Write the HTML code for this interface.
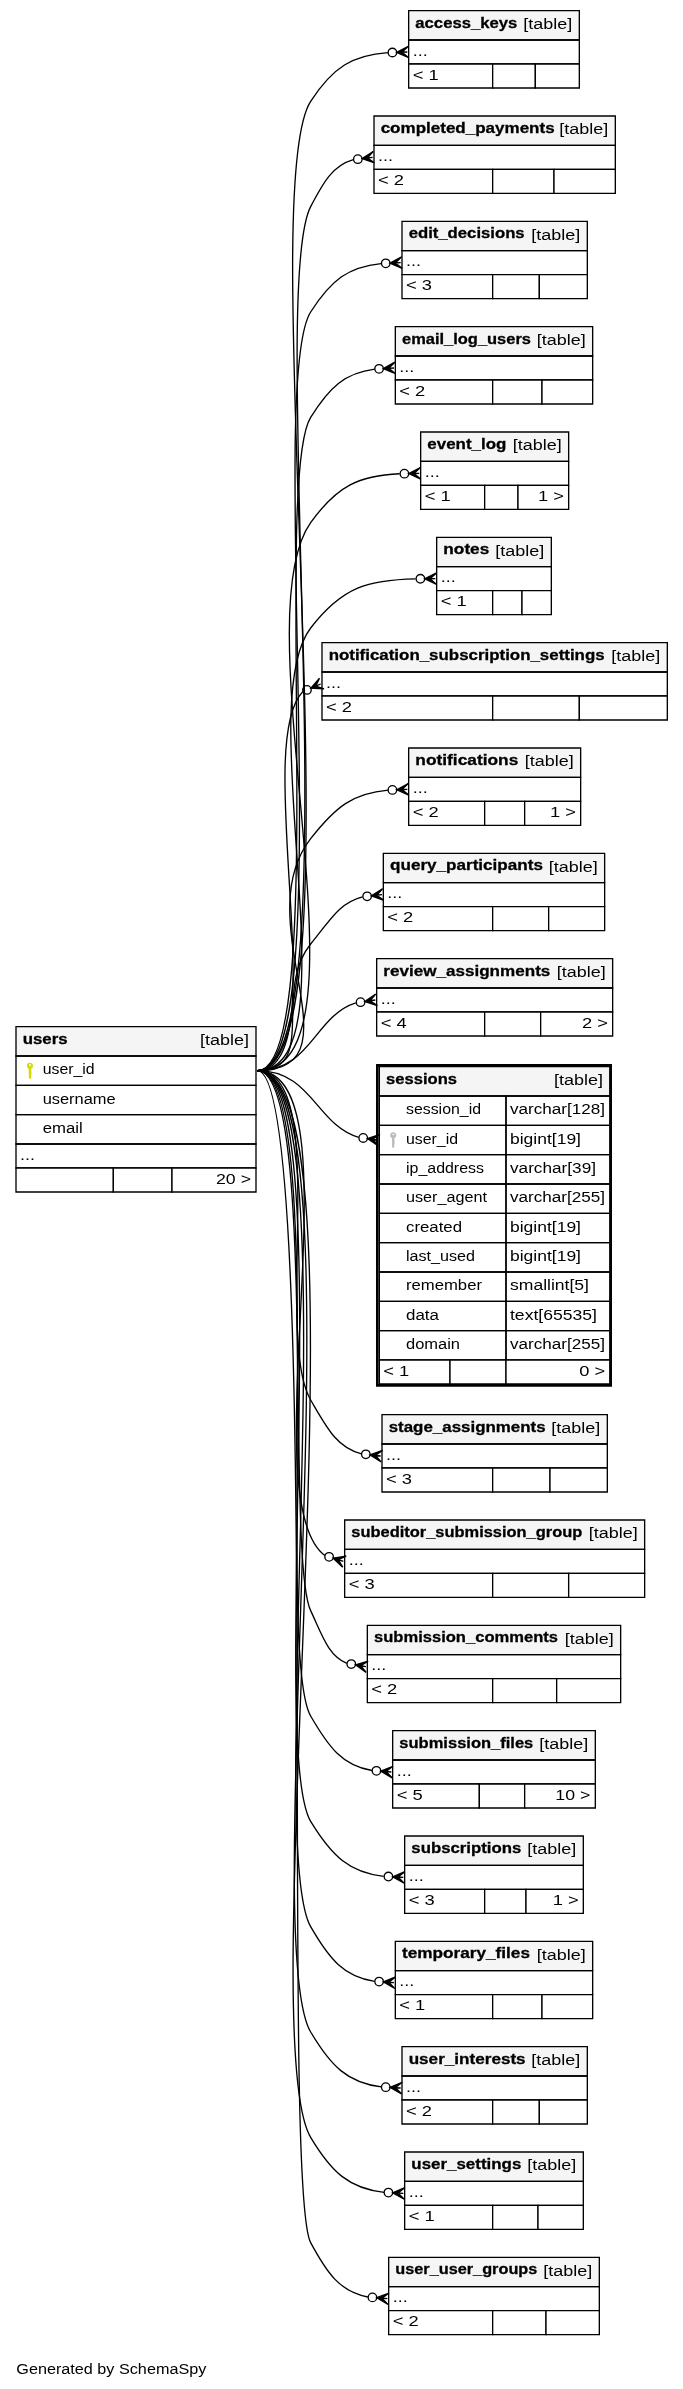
<!DOCTYPE html>
<html><head><meta charset="utf-8"><title>users</title>
<style>
html,body{margin:0;padding:0;background:#fff;}
svg{display:block;will-change:transform;}
svg text{font-family:"Liberation Sans",sans-serif;font-size:11.5px;fill:#000;}
svg text[font-weight=bold]{stroke:#000;stroke-width:0.22px;}
</style></head><body>
<svg width="682.667" height="2389.333" viewBox="0 0 512 1792">
<g transform="scale(1 1) rotate(0) translate(4 1788)">
<polygon fill="#ffffff" stroke="none" points="-4,4 -4,-1788 508,-1788 508,4 -4,4"/>
<text lengthAdjust="spacingAndGlyphs" text-anchor="middle" x="79.5" y="-7.2" textLength="142.5">Generated by SchemaSpy</text>
<g>
<polygon fill="#ffffff" stroke="none" points="302.5,-1722 302.5,-1780 430.5,-1780 430.5,-1722 302.5,-1722"/>
<polygon fill="#f5f5f5" stroke="none" points="302.5,-1758 302.5,-1780 430.5,-1780 430.5,-1758 302.5,-1758"/>
<polygon fill="none" stroke="black" points="302.5,-1758 302.5,-1780 430.5,-1780 430.5,-1758 302.5,-1758"/>
<text lengthAdjust="spacingAndGlyphs" text-anchor="start" x="307.5" y="-1767.2" font-weight="bold" textLength="76.5">access_keys</text>
<text lengthAdjust="spacingAndGlyphs" text-anchor="start" x="388.5" y="-1766.2" textLength="36.75">[table]</text>
<polygon fill="none" stroke="black" points="302.5,-1740 302.5,-1758 430.5,-1758 430.5,-1740 302.5,-1740"/>
<text lengthAdjust="spacingAndGlyphs" text-anchor="start" x="305.5" y="-1746.2" textLength="11.25">...</text>
<polygon fill="#ffffff" stroke="none" points="302.5,-1722 302.5,-1740 365.5,-1740 365.5,-1722 302.5,-1722"/>
<polygon fill="none" stroke="black" points="302.5,-1722 302.5,-1740 365.5,-1740 365.5,-1722 302.5,-1722"/>
<text lengthAdjust="spacingAndGlyphs" text-anchor="start" x="305.5" y="-1728.2" textLength="19.5">&lt; 1</text>
<polygon fill="#ffffff" stroke="none" points="365.5,-1722 365.5,-1740 397.5,-1740 397.5,-1722 365.5,-1722"/>
<polygon fill="none" stroke="black" points="365.5,-1722 365.5,-1740 397.5,-1740 397.5,-1722 365.5,-1722"/>

<polygon fill="#ffffff" stroke="none" points="397.5,-1722 397.5,-1740 430.5,-1740 430.5,-1722 397.5,-1722"/>
<polygon fill="none" stroke="black" points="397.5,-1722 397.5,-1740 430.5,-1740 430.5,-1722 397.5,-1722"/>

</g>
<g>
<polygon fill="#ffffff" stroke="none" points="8,-894 8,-1018 188,-1018 188,-894 8,-894"/>
<polygon fill="#f5f5f5" stroke="none" points="8,-996 8,-1018 188,-1018 188,-996 8,-996"/>
<polygon fill="none" stroke="black" points="8,-996 8,-1018 188,-1018 188,-996 8,-996"/>
<text lengthAdjust="spacingAndGlyphs" text-anchor="start" x="13" y="-1005.2" font-weight="bold" textLength="33.75">users</text>
<text lengthAdjust="spacingAndGlyphs" text-anchor="start" x="146" y="-1004.2" textLength="36.75">[table]</text>
<polygon fill="none" stroke="black" points="8,-974 8,-996 188,-996 188,-974 8,-974"/>
<text lengthAdjust="spacingAndGlyphs" text-anchor="start" x="28" y="-982.2" textLength="39">user_id</text>
<polygon fill="none" stroke="black" points="8,-952 8,-974 188,-974 188,-952 8,-952"/>
<text lengthAdjust="spacingAndGlyphs" text-anchor="start" x="28" y="-960.2" textLength="54.75">username</text>
<polygon fill="none" stroke="black" points="8,-930 8,-952 188,-952 188,-930 8,-930"/>
<text lengthAdjust="spacingAndGlyphs" text-anchor="start" x="28" y="-938.2" textLength="30">email</text>
<polygon fill="none" stroke="black" points="8,-912 8,-930 188,-930 188,-912 8,-912"/>
<text lengthAdjust="spacingAndGlyphs" text-anchor="start" x="11" y="-918.2" textLength="11.25">...</text>
<polygon fill="#ffffff" stroke="none" points="8,-894 8,-912 81,-912 81,-894 8,-894"/>
<polygon fill="none" stroke="black" points="8,-894 8,-912 81,-912 81,-894 8,-894"/>

<polygon fill="#ffffff" stroke="none" points="81,-894 81,-912 125,-912 125,-894 81,-894"/>
<polygon fill="none" stroke="black" points="81,-894 81,-912 125,-912 125,-894 81,-894"/>

<polygon fill="#ffffff" stroke="none" points="125,-894 125,-912 188,-912 188,-894 125,-894"/>
<polygon fill="none" stroke="black" points="125,-894 125,-912 188,-912 188,-894 125,-894"/>
<text lengthAdjust="spacingAndGlyphs" text-anchor="start" x="158" y="-900.2" textLength="26.25">20 &gt;</text>
</g>
<g>
<path fill="none" stroke="black" d="M286.97,-1748.53C260.46,-1746.58 245.88,-1737.94 229,-1712 184.87,-1644.19 269.9,-985 189,-985"/>
<polygon fill="black" stroke="black" points="293.5,-1748.74 302.26,-1753.35 297.5,-1748.87 301.5,-1749 301.5,-1749 301.5,-1749 297.5,-1748.87 302.54,-1744.71 293.5,-1748.74 293.5,-1748.74"/>
<ellipse fill="none" stroke="black" cx="290.31" cy="-1748.64" rx="3.2" ry="3.2"/>
</g>
<g>
<polygon fill="#ffffff" stroke="none" points="276,-1643 276,-1701 457,-1701 457,-1643 276,-1643"/>
<polygon fill="#f5f5f5" stroke="none" points="276.5,-1679 276.5,-1701 457.5,-1701 457.5,-1679 276.5,-1679"/>
<polygon fill="none" stroke="black" points="276.5,-1679 276.5,-1701 457.5,-1701 457.5,-1679 276.5,-1679"/>
<text lengthAdjust="spacingAndGlyphs" text-anchor="start" x="281.5" y="-1688.2" font-weight="bold" textLength="130.5">completed_payments</text>
<text lengthAdjust="spacingAndGlyphs" text-anchor="start" x="415.5" y="-1687.2" textLength="36.75">[table]</text>
<polygon fill="none" stroke="black" points="276.5,-1661 276.5,-1679 457.5,-1679 457.5,-1661 276.5,-1661"/>
<text lengthAdjust="spacingAndGlyphs" text-anchor="start" x="279.5" y="-1667.2" textLength="11.25">...</text>
<polygon fill="#ffffff" stroke="none" points="276.5,-1643 276.5,-1661 365.5,-1661 365.5,-1643 276.5,-1643"/>
<polygon fill="none" stroke="black" points="276.5,-1643 276.5,-1661 365.5,-1661 365.5,-1643 276.5,-1643"/>
<text lengthAdjust="spacingAndGlyphs" text-anchor="start" x="279.5" y="-1649.2" textLength="19.5">&lt; 2</text>
<polygon fill="#ffffff" stroke="none" points="365.5,-1643 365.5,-1661 411.5,-1661 411.5,-1643 365.5,-1643"/>
<polygon fill="none" stroke="black" points="365.5,-1643 365.5,-1661 411.5,-1661 411.5,-1643 365.5,-1643"/>

<polygon fill="#ffffff" stroke="none" points="411.5,-1643 411.5,-1661 457.5,-1661 457.5,-1643 411.5,-1643"/>
<polygon fill="none" stroke="black" points="411.5,-1643 411.5,-1661 457.5,-1661 457.5,-1643 411.5,-1643"/>

</g>
<g>
<path fill="none" stroke="black" d="M261.04,-1668.22C245.57,-1663.83 238.63,-1651.48 229,-1633 195.68,-1569.02 261.14,-985 189,-985"/>
<polygon fill="black" stroke="black" points="267.56,-1669.02 275.87,-1674.39 271.53,-1669.51 275.5,-1670 275.5,-1670 275.5,-1670 271.53,-1669.51 276.92,-1665.83 267.56,-1669.02 267.56,-1669.02"/>
<ellipse fill="none" stroke="black" cx="264.38" cy="-1668.63" rx="3.2" ry="3.2"/>
</g>
<g>
<polygon fill="#ffffff" stroke="none" points="297,-1564 297,-1622 436,-1622 436,-1564 297,-1564"/>
<polygon fill="#f5f5f5" stroke="none" points="297.5,-1600 297.5,-1622 436.5,-1622 436.5,-1600 297.5,-1600"/>
<polygon fill="none" stroke="black" points="297.5,-1600 297.5,-1622 436.5,-1622 436.5,-1600 297.5,-1600"/>
<text lengthAdjust="spacingAndGlyphs" text-anchor="start" x="302.5" y="-1609.2" font-weight="bold" textLength="87">edit_decisions</text>
<text lengthAdjust="spacingAndGlyphs" text-anchor="start" x="394.5" y="-1608.2" textLength="36.75">[table]</text>
<polygon fill="none" stroke="black" points="297.5,-1582 297.5,-1600 436.5,-1600 436.5,-1582 297.5,-1582"/>
<text lengthAdjust="spacingAndGlyphs" text-anchor="start" x="300.5" y="-1588.2" textLength="11.25">...</text>
<polygon fill="#ffffff" stroke="none" points="297.5,-1564 297.5,-1582 365.5,-1582 365.5,-1564 297.5,-1564"/>
<polygon fill="none" stroke="black" points="297.5,-1564 297.5,-1582 365.5,-1582 365.5,-1564 297.5,-1564"/>
<text lengthAdjust="spacingAndGlyphs" text-anchor="start" x="300.5" y="-1570.2" textLength="19.5">&lt; 3</text>
<polygon fill="#ffffff" stroke="none" points="365.5,-1564 365.5,-1582 400.5,-1582 400.5,-1564 365.5,-1564"/>
<polygon fill="none" stroke="black" points="365.5,-1564 365.5,-1582 400.5,-1582 400.5,-1564 365.5,-1564"/>

<polygon fill="#ffffff" stroke="none" points="400.5,-1564 400.5,-1582 436.5,-1582 436.5,-1564 400.5,-1564"/>
<polygon fill="none" stroke="black" points="400.5,-1564 400.5,-1582 436.5,-1582 436.5,-1564 400.5,-1564"/>

</g>
<g>
<path fill="none" stroke="black" d="M281.79,-1590.35C257.56,-1587.94 244.57,-1578.31 229,-1554 194.81,-1500.63 252.38,-985 189,-985"/>
<polygon fill="black" stroke="black" points="288.51,-1590.65 297.21,-1595.36 292.5,-1590.82 296.5,-1591 296.5,-1591 296.5,-1591 292.5,-1590.82 297.59,-1586.72 288.51,-1590.65 288.51,-1590.65"/>
<ellipse fill="none" stroke="black" cx="285.31" cy="-1590.51" rx="3.2" ry="3.2"/>
</g>
<g>
<polygon fill="#ffffff" stroke="none" points="292.5,-1485 292.5,-1543 440.5,-1543 440.5,-1485 292.5,-1485"/>
<polygon fill="#f5f5f5" stroke="none" points="292.5,-1521 292.5,-1543 440.5,-1543 440.5,-1521 292.5,-1521"/>
<polygon fill="none" stroke="black" points="292.5,-1521 292.5,-1543 440.5,-1543 440.5,-1521 292.5,-1521"/>
<text lengthAdjust="spacingAndGlyphs" text-anchor="start" x="297.5" y="-1530.2" font-weight="bold" textLength="96.75">email_log_users</text>
<text lengthAdjust="spacingAndGlyphs" text-anchor="start" x="398.5" y="-1529.2" textLength="36.75">[table]</text>
<polygon fill="none" stroke="black" points="292.5,-1503 292.5,-1521 440.5,-1521 440.5,-1503 292.5,-1503"/>
<text lengthAdjust="spacingAndGlyphs" text-anchor="start" x="295.5" y="-1509.2" textLength="11.25">...</text>
<polygon fill="#ffffff" stroke="none" points="292.5,-1485 292.5,-1503 365.5,-1503 365.5,-1485 292.5,-1485"/>
<polygon fill="none" stroke="black" points="292.5,-1485 292.5,-1503 365.5,-1503 365.5,-1485 292.5,-1485"/>
<text lengthAdjust="spacingAndGlyphs" text-anchor="start" x="295.5" y="-1491.2" textLength="19.5">&lt; 2</text>
<polygon fill="#ffffff" stroke="none" points="365.5,-1485 365.5,-1503 402.5,-1503 402.5,-1485 365.5,-1485"/>
<polygon fill="none" stroke="black" points="365.5,-1485 365.5,-1503 402.5,-1503 402.5,-1485 365.5,-1485"/>

<polygon fill="#ffffff" stroke="none" points="402.5,-1485 402.5,-1503 440.5,-1503 440.5,-1485 402.5,-1485"/>
<polygon fill="none" stroke="black" points="402.5,-1485 402.5,-1503 440.5,-1503 440.5,-1485 402.5,-1485"/>

</g>
<g>
<path fill="none" stroke="black" d="M277.06,-1511.19C254.81,-1508.36 243.31,-1497.88 229,-1475 200.04,-1428.69 243.63,-985 189,-985"/>
<polygon fill="black" stroke="black" points="283.51,-1511.55 292.16,-1516.36 287.51,-1511.78 291.5,-1512 291.5,-1512 291.5,-1512 287.51,-1511.78 292.64,-1507.74 283.51,-1511.55 283.51,-1511.55"/>
<ellipse fill="none" stroke="black" cx="280.32" cy="-1511.37" rx="3.2" ry="3.2"/>
</g>
<g>
<polygon fill="#ffffff" stroke="none" points="311,-1406 311,-1464 422,-1464 422,-1406 311,-1406"/>
<polygon fill="#f5f5f5" stroke="none" points="311.5,-1442 311.5,-1464 422.5,-1464 422.5,-1442 311.5,-1442"/>
<polygon fill="none" stroke="black" points="311.5,-1442 311.5,-1464 422.5,-1464 422.5,-1442 311.5,-1442"/>
<text lengthAdjust="spacingAndGlyphs" text-anchor="start" x="316.5" y="-1451.2" font-weight="bold" textLength="59.25">event_log</text>
<text lengthAdjust="spacingAndGlyphs" text-anchor="start" x="380.5" y="-1450.2" textLength="36.75">[table]</text>
<polygon fill="none" stroke="black" points="311.5,-1424 311.5,-1442 422.5,-1442 422.5,-1424 311.5,-1424"/>
<text lengthAdjust="spacingAndGlyphs" text-anchor="start" x="314.5" y="-1430.2" textLength="11.25">...</text>
<polygon fill="#ffffff" stroke="none" points="311.5,-1406 311.5,-1424 359.5,-1424 359.5,-1406 311.5,-1406"/>
<polygon fill="none" stroke="black" points="311.5,-1406 311.5,-1424 359.5,-1424 359.5,-1406 311.5,-1406"/>
<text lengthAdjust="spacingAndGlyphs" text-anchor="start" x="314.5" y="-1412.2" textLength="19.5">&lt; 1</text>
<polygon fill="#ffffff" stroke="none" points="359.5,-1406 359.5,-1424 384.5,-1424 384.5,-1406 359.5,-1406"/>
<polygon fill="none" stroke="black" points="359.5,-1406 359.5,-1424 384.5,-1424 384.5,-1406 359.5,-1406"/>

<polygon fill="#ffffff" stroke="none" points="384.5,-1406 384.5,-1424 422.5,-1424 422.5,-1406 384.5,-1406"/>
<polygon fill="none" stroke="black" points="384.5,-1406 384.5,-1424 422.5,-1424 422.5,-1406 384.5,-1406"/>
<text lengthAdjust="spacingAndGlyphs" text-anchor="start" x="399.5" y="-1412.2" textLength="19.5">1 &gt;</text>
</g>
<g>
<path fill="none" stroke="black" d="M295.71,-1432.7C265.7,-1431.28 249.07,-1424.06 229,-1396 175.62,-1321.36 280.76,-985 189,-985"/>
<polygon fill="black" stroke="black" points="302.5,-1432.84 311.32,-1437.34 306.5,-1432.92 310.5,-1433 310.5,-1433 310.5,-1433 306.5,-1432.92 311.48,-1428.7 302.5,-1432.84 302.5,-1432.84"/>
<ellipse fill="none" stroke="black" cx="299.3" cy="-1432.77" rx="3.2" ry="3.2"/>
</g>
<g>
<polygon fill="#ffffff" stroke="none" points="323.5,-1327 323.5,-1385 409.5,-1385 409.5,-1327 323.5,-1327"/>
<polygon fill="#f5f5f5" stroke="none" points="323.5,-1363 323.5,-1385 409.5,-1385 409.5,-1363 323.5,-1363"/>
<polygon fill="none" stroke="black" points="323.5,-1363 323.5,-1385 409.5,-1385 409.5,-1363 323.5,-1363"/>
<text lengthAdjust="spacingAndGlyphs" text-anchor="start" x="328.5" y="-1372.2" font-weight="bold" textLength="34.5">notes</text>
<text lengthAdjust="spacingAndGlyphs" text-anchor="start" x="367.5" y="-1371.2" textLength="36.75">[table]</text>
<polygon fill="none" stroke="black" points="323.5,-1345 323.5,-1363 409.5,-1363 409.5,-1345 323.5,-1345"/>
<text lengthAdjust="spacingAndGlyphs" text-anchor="start" x="326.5" y="-1351.2" textLength="11.25">...</text>
<polygon fill="#ffffff" stroke="none" points="323.5,-1327 323.5,-1345 365.5,-1345 365.5,-1327 323.5,-1327"/>
<polygon fill="none" stroke="black" points="323.5,-1327 323.5,-1345 365.5,-1345 365.5,-1327 323.5,-1327"/>
<text lengthAdjust="spacingAndGlyphs" text-anchor="start" x="326.5" y="-1333.2" textLength="19.5">&lt; 1</text>
<polygon fill="#ffffff" stroke="none" points="365.5,-1327 365.5,-1345 387.5,-1345 387.5,-1327 365.5,-1327"/>
<polygon fill="none" stroke="black" points="365.5,-1327 365.5,-1345 387.5,-1345 387.5,-1327 365.5,-1327"/>

<polygon fill="#ffffff" stroke="none" points="387.5,-1327 387.5,-1345 409.5,-1345 409.5,-1327 387.5,-1327"/>
<polygon fill="none" stroke="black" points="387.5,-1327 387.5,-1345 409.5,-1345 409.5,-1327 387.5,-1327"/>

</g>
<g>
<path fill="none" stroke="black" d="M307.7,-1353.88C272.69,-1353.16 253.09,-1348.24 229,-1317 183.62,-1258.16 263.31,-985 189,-985"/>
<polygon fill="black" stroke="black" points="314.5,-1353.94 323.36,-1358.33 318.5,-1353.97 322.5,-1354 322.5,-1354 322.5,-1354 318.5,-1353.97 323.44,-1349.69 314.5,-1353.94 314.5,-1353.94"/>
<ellipse fill="none" stroke="black" cx="311.3" cy="-1353.91" rx="3.2" ry="3.2"/>
</g>
<g>
<polygon fill="#ffffff" stroke="none" points="237,-1248 237,-1306 496,-1306 496,-1248 237,-1248"/>
<polygon fill="#f5f5f5" stroke="none" points="237.5,-1284 237.5,-1306 496.5,-1306 496.5,-1284 237.5,-1284"/>
<polygon fill="none" stroke="black" points="237.5,-1284 237.5,-1306 496.5,-1306 496.5,-1284 237.5,-1284"/>
<text lengthAdjust="spacingAndGlyphs" text-anchor="start" x="242.5" y="-1293.2" font-weight="bold" textLength="207">notification_subscription_settings</text>
<text lengthAdjust="spacingAndGlyphs" text-anchor="start" x="454.5" y="-1292.2" textLength="36.75">[table]</text>
<polygon fill="none" stroke="black" points="237.5,-1266 237.5,-1284 496.5,-1284 496.5,-1266 237.5,-1266"/>
<text lengthAdjust="spacingAndGlyphs" text-anchor="start" x="240.5" y="-1272.2" textLength="11.25">...</text>
<polygon fill="#ffffff" stroke="none" points="237.5,-1248 237.5,-1266 365.5,-1266 365.5,-1248 237.5,-1248"/>
<polygon fill="none" stroke="black" points="237.5,-1248 237.5,-1266 365.5,-1266 365.5,-1248 237.5,-1248"/>
<text lengthAdjust="spacingAndGlyphs" text-anchor="start" x="240.5" y="-1254.2" textLength="19.5">&lt; 2</text>
<polygon fill="#ffffff" stroke="none" points="365.5,-1248 365.5,-1266 430.5,-1266 430.5,-1248 365.5,-1248"/>
<polygon fill="none" stroke="black" points="365.5,-1248 365.5,-1266 430.5,-1266 430.5,-1248 365.5,-1248"/>

<polygon fill="#ffffff" stroke="none" points="430.5,-1248 430.5,-1266 496.5,-1266 496.5,-1248 430.5,-1248"/>
<polygon fill="none" stroke="black" points="430.5,-1248 430.5,-1266 496.5,-1266 496.5,-1248 430.5,-1248"/>

</g>
<g>
<path fill="none" stroke="black" d="M223.01,-1269.21C184.11,-1228.33 248.82,-985 189,-985"/>
<polygon fill="black" stroke="black" points="229.15,-1271.84 235.62,-1279.33 232.82,-1273.42 236.5,-1275 236.5,-1275 236.5,-1275 232.82,-1273.42 239.03,-1271.38 229.15,-1271.84 229.15,-1271.84"/>
<ellipse fill="none" stroke="black" cx="226.21" cy="-1270.58" rx="3.2" ry="3.2"/>
</g>
<g>
<polygon fill="#ffffff" stroke="none" points="302,-1169 302,-1227 431,-1227 431,-1169 302,-1169"/>
<polygon fill="#f5f5f5" stroke="none" points="302.5,-1205 302.5,-1227 431.5,-1227 431.5,-1205 302.5,-1205"/>
<polygon fill="none" stroke="black" points="302.5,-1205 302.5,-1227 431.5,-1227 431.5,-1205 302.5,-1205"/>
<text lengthAdjust="spacingAndGlyphs" text-anchor="start" x="307.5" y="-1214.2" font-weight="bold" textLength="77.25">notifications</text>
<text lengthAdjust="spacingAndGlyphs" text-anchor="start" x="389.5" y="-1213.2" textLength="36.75">[table]</text>
<polygon fill="none" stroke="black" points="302.5,-1187 302.5,-1205 431.5,-1205 431.5,-1187 302.5,-1187"/>
<text lengthAdjust="spacingAndGlyphs" text-anchor="start" x="305.5" y="-1193.2" textLength="11.25">...</text>
<polygon fill="#ffffff" stroke="none" points="302.5,-1169 302.5,-1187 359.5,-1187 359.5,-1169 302.5,-1169"/>
<polygon fill="none" stroke="black" points="302.5,-1169 302.5,-1187 359.5,-1187 359.5,-1169 302.5,-1169"/>
<text lengthAdjust="spacingAndGlyphs" text-anchor="start" x="305.5" y="-1175.2" textLength="19.5">&lt; 2</text>
<polygon fill="#ffffff" stroke="none" points="359.5,-1169 359.5,-1187 389.5,-1187 389.5,-1169 359.5,-1169"/>
<polygon fill="none" stroke="black" points="359.5,-1169 359.5,-1187 389.5,-1187 389.5,-1169 359.5,-1169"/>

<polygon fill="#ffffff" stroke="none" points="389.5,-1169 389.5,-1187 431.5,-1187 431.5,-1169 389.5,-1169"/>
<polygon fill="none" stroke="black" points="389.5,-1169 389.5,-1187 431.5,-1187 431.5,-1169 389.5,-1169"/>
<text lengthAdjust="spacingAndGlyphs" text-anchor="start" x="408.5" y="-1175.2" textLength="19.5">1 &gt;</text>
</g>
<g>
<path fill="none" stroke="black" d="M287.11,-1195.43C261.08,-1193.13 248.03,-1183.4 229,-1159 180.2,-1096.43 268.35,-985 189,-985"/>
<polygon fill="black" stroke="black" points="293.51,-1195.69 302.23,-1200.35 297.5,-1195.84 301.5,-1196 301.5,-1196 301.5,-1196 297.5,-1195.84 302.57,-1191.71 293.51,-1195.69 293.51,-1195.69"/>
<ellipse fill="none" stroke="black" cx="290.31" cy="-1195.56" rx="3.2" ry="3.2"/>
</g>
<g>
<polygon fill="#ffffff" stroke="none" points="283.5,-1090 283.5,-1148 449.5,-1148 449.5,-1090 283.5,-1090"/>
<polygon fill="#f5f5f5" stroke="none" points="283.5,-1126 283.5,-1148 449.5,-1148 449.5,-1126 283.5,-1126"/>
<polygon fill="none" stroke="black" points="283.5,-1126 283.5,-1148 449.5,-1148 449.5,-1126 283.5,-1126"/>
<text lengthAdjust="spacingAndGlyphs" text-anchor="start" x="288.5" y="-1135.2" font-weight="bold" textLength="114.75">query_participants</text>
<text lengthAdjust="spacingAndGlyphs" text-anchor="start" x="407.5" y="-1134.2" textLength="36.75">[table]</text>
<polygon fill="none" stroke="black" points="283.5,-1108 283.5,-1126 449.5,-1126 449.5,-1108 283.5,-1108"/>
<text lengthAdjust="spacingAndGlyphs" text-anchor="start" x="286.5" y="-1114.2" textLength="11.25">...</text>
<polygon fill="#ffffff" stroke="none" points="283.5,-1090 283.5,-1108 365.5,-1108 365.5,-1090 283.5,-1090"/>
<polygon fill="none" stroke="black" points="283.5,-1090 283.5,-1108 365.5,-1108 365.5,-1090 283.5,-1090"/>
<text lengthAdjust="spacingAndGlyphs" text-anchor="start" x="286.5" y="-1096.2" textLength="19.5">&lt; 2</text>
<polygon fill="#ffffff" stroke="none" points="365.5,-1090 365.5,-1108 407.5,-1108 407.5,-1090 365.5,-1090"/>
<polygon fill="none" stroke="black" points="365.5,-1090 365.5,-1108 407.5,-1108 407.5,-1090 365.5,-1090"/>

<polygon fill="#ffffff" stroke="none" points="407.5,-1090 407.5,-1108 449.5,-1108 449.5,-1090 407.5,-1090"/>
<polygon fill="none" stroke="black" points="407.5,-1090 407.5,-1108 449.5,-1108 449.5,-1090 407.5,-1090"/>

</g>
<g>
<path fill="none" stroke="black" d="M267.88,-1115.38C250.65,-1111.01 243.67,-1098.06 229,-1080 200.12,-1044.44 234.81,-985 189,-985"/>
<polygon fill="black" stroke="black" points="274.55,-1116.12 282.91,-1121.4 278.52,-1116.56 282.5,-1117 282.5,-1117 282.5,-1117 278.52,-1116.56 283.87,-1112.8 274.55,-1116.12 274.55,-1116.12"/>
<ellipse fill="none" stroke="black" cx="271.37" cy="-1115.77" rx="3.2" ry="3.2"/>
</g>
<g>
<polygon fill="#ffffff" stroke="none" points="278,-1011 278,-1069 455,-1069 455,-1011 278,-1011"/>
<polygon fill="#f5f5f5" stroke="none" points="278.5,-1047 278.5,-1069 455.5,-1069 455.5,-1047 278.5,-1047"/>
<polygon fill="none" stroke="black" points="278.5,-1047 278.5,-1069 455.5,-1069 455.5,-1047 278.5,-1047"/>
<text lengthAdjust="spacingAndGlyphs" text-anchor="start" x="283.5" y="-1056.2" font-weight="bold" textLength="125.25">review_assignments</text>
<text lengthAdjust="spacingAndGlyphs" text-anchor="start" x="413.5" y="-1055.2" textLength="36.75">[table]</text>
<polygon fill="none" stroke="black" points="278.5,-1029 278.5,-1047 455.5,-1047 455.5,-1029 278.5,-1029"/>
<text lengthAdjust="spacingAndGlyphs" text-anchor="start" x="281.5" y="-1035.2" textLength="11.25">...</text>
<polygon fill="#ffffff" stroke="none" points="278.5,-1011 278.5,-1029 359.5,-1029 359.5,-1011 278.5,-1011"/>
<polygon fill="none" stroke="black" points="278.5,-1011 278.5,-1029 359.5,-1029 359.5,-1011 278.5,-1011"/>
<text lengthAdjust="spacingAndGlyphs" text-anchor="start" x="281.5" y="-1017.2" textLength="19.5">&lt; 4</text>
<polygon fill="#ffffff" stroke="none" points="359.5,-1011 359.5,-1029 401.5,-1029 401.5,-1011 359.5,-1011"/>
<polygon fill="none" stroke="black" points="359.5,-1011 359.5,-1029 401.5,-1029 401.5,-1011 359.5,-1011"/>

<polygon fill="#ffffff" stroke="none" points="401.5,-1011 401.5,-1029 455.5,-1029 455.5,-1011 401.5,-1011"/>
<polygon fill="none" stroke="black" points="401.5,-1011 401.5,-1029 455.5,-1029 455.5,-1011 401.5,-1011"/>
<text lengthAdjust="spacingAndGlyphs" text-anchor="start" x="432.5" y="-1017.2" textLength="19.5">2 &gt;</text>
</g>
<g>
<path fill="none" stroke="black" d="M262.83,-1035.86C231.71,-1025.94 229.3,-985 189,-985"/>
<polygon fill="black" stroke="black" points="269.58,-1036.84 277.77,-1042.4 273.54,-1037.42 277.5,-1038 277.5,-1038 277.5,-1038 273.54,-1037.42 279.01,-1033.86 269.58,-1036.84 269.58,-1036.84"/>
<ellipse fill="none" stroke="black" cx="266.42" cy="-1036.38" rx="3.2" ry="3.2"/>
</g>
<g>
<polygon fill="#ffffff" stroke="none" points="278,-748 278,-990 455,-990 455,-748 278,-748"/>
<polygon fill="#f5f5f5" stroke="none" points="280.5,-966 280.5,-988 453.5,-988 453.5,-966 280.5,-966"/>
<polygon fill="none" stroke="black" points="280.5,-966 280.5,-988 453.5,-988 453.5,-966 280.5,-966"/>
<text lengthAdjust="spacingAndGlyphs" text-anchor="start" x="285.5" y="-975.2" font-weight="bold" textLength="53.25">sessions</text>
<text lengthAdjust="spacingAndGlyphs" text-anchor="start" x="411.5" y="-974.2" textLength="36.75">[table]</text>
<polygon fill="none" stroke="black" points="280.5,-944 280.5,-966 375.5,-966 375.5,-944 280.5,-944"/>
<text lengthAdjust="spacingAndGlyphs" text-anchor="start" x="300.5" y="-952.2" textLength="56.25">session_id</text>
<polygon fill="none" stroke="black" points="375.5,-944 375.5,-966 453.5,-966 453.5,-944 375.5,-944"/>
<text lengthAdjust="spacingAndGlyphs" text-anchor="start" x="378.5" y="-952.2" textLength="71.25">varchar[128]</text>
<polygon fill="none" stroke="black" points="280.5,-922 280.5,-944 375.5,-944 375.5,-922 280.5,-922"/>
<text lengthAdjust="spacingAndGlyphs" text-anchor="start" x="300.5" y="-930.2" textLength="39">user_id</text>
<polygon fill="none" stroke="black" points="375.5,-922 375.5,-944 453.5,-944 453.5,-922 375.5,-922"/>
<text lengthAdjust="spacingAndGlyphs" text-anchor="start" x="378.5" y="-930.2" textLength="53.25">bigint[19]</text>
<polygon fill="none" stroke="black" points="280.5,-900 280.5,-922 375.5,-922 375.5,-900 280.5,-900"/>
<text lengthAdjust="spacingAndGlyphs" text-anchor="start" x="300.5" y="-908.2" textLength="58.5">ip_address</text>
<polygon fill="none" stroke="black" points="375.5,-900 375.5,-922 453.5,-922 453.5,-900 375.5,-900"/>
<text lengthAdjust="spacingAndGlyphs" text-anchor="start" x="378.5" y="-908.2" textLength="64.5">varchar[39]</text>
<polygon fill="none" stroke="black" points="280.5,-878 280.5,-900 375.5,-900 375.5,-878 280.5,-878"/>
<text lengthAdjust="spacingAndGlyphs" text-anchor="start" x="300.5" y="-886.2" textLength="60.75">user_agent</text>
<polygon fill="none" stroke="black" points="375.5,-878 375.5,-900 453.5,-900 453.5,-878 375.5,-878"/>
<text lengthAdjust="spacingAndGlyphs" text-anchor="start" x="378.5" y="-886.2" textLength="71.25">varchar[255]</text>
<polygon fill="none" stroke="black" points="280.5,-856 280.5,-878 375.5,-878 375.5,-856 280.5,-856"/>
<text lengthAdjust="spacingAndGlyphs" text-anchor="start" x="300.5" y="-864.2" textLength="42">created</text>
<polygon fill="none" stroke="black" points="375.5,-856 375.5,-878 453.5,-878 453.5,-856 375.5,-856"/>
<text lengthAdjust="spacingAndGlyphs" text-anchor="start" x="378.5" y="-864.2" textLength="53.25">bigint[19]</text>
<polygon fill="none" stroke="black" points="280.5,-834 280.5,-856 375.5,-856 375.5,-834 280.5,-834"/>
<text lengthAdjust="spacingAndGlyphs" text-anchor="start" x="300.5" y="-842.2" textLength="51.75">last_used</text>
<polygon fill="none" stroke="black" points="375.5,-834 375.5,-856 453.5,-856 453.5,-834 375.5,-834"/>
<text lengthAdjust="spacingAndGlyphs" text-anchor="start" x="378.5" y="-842.2" textLength="53.25">bigint[19]</text>
<polygon fill="none" stroke="black" points="280.5,-812 280.5,-834 375.5,-834 375.5,-812 280.5,-812"/>
<text lengthAdjust="spacingAndGlyphs" text-anchor="start" x="300.5" y="-820.2" textLength="57">remember</text>
<polygon fill="none" stroke="black" points="375.5,-812 375.5,-834 453.5,-834 453.5,-812 375.5,-812"/>
<text lengthAdjust="spacingAndGlyphs" text-anchor="start" x="378.5" y="-820.2" textLength="59.25">smallint[5]</text>
<polygon fill="none" stroke="black" points="280.5,-790 280.5,-812 375.5,-812 375.5,-790 280.5,-790"/>
<text lengthAdjust="spacingAndGlyphs" text-anchor="start" x="300.5" y="-798.2" textLength="24.75">data</text>
<polygon fill="none" stroke="black" points="375.5,-790 375.5,-812 453.5,-812 453.5,-790 375.5,-790"/>
<text lengthAdjust="spacingAndGlyphs" text-anchor="start" x="378.5" y="-798.2" textLength="65.25">text[65535]</text>
<polygon fill="none" stroke="black" points="280.5,-768 280.5,-790 375.5,-790 375.5,-768 280.5,-768"/>
<text lengthAdjust="spacingAndGlyphs" text-anchor="start" x="300.5" y="-776.2" textLength="40.5">domain</text>
<polygon fill="none" stroke="black" points="375.5,-768 375.5,-790 453.5,-790 453.5,-768 375.5,-768"/>
<text lengthAdjust="spacingAndGlyphs" text-anchor="start" x="378.5" y="-776.2" textLength="71.25">varchar[255]</text>
<polygon fill="#ffffff" stroke="none" points="280.5,-750 280.5,-768 333.5,-768 333.5,-750 280.5,-750"/>
<polygon fill="none" stroke="black" points="280.5,-750 280.5,-768 333.5,-768 333.5,-750 280.5,-750"/>
<text lengthAdjust="spacingAndGlyphs" text-anchor="start" x="283.5" y="-756.2" textLength="19.5">&lt; 1</text>
<polygon fill="#ffffff" stroke="none" points="333.5,-750 333.5,-768 375.5,-768 375.5,-750 333.5,-750"/>
<polygon fill="none" stroke="black" points="333.5,-750 333.5,-768 375.5,-768 375.5,-750 333.5,-750"/>

<polygon fill="#ffffff" stroke="none" points="375.5,-750 375.5,-768 453.5,-768 453.5,-750 375.5,-750"/>
<polygon fill="none" stroke="black" points="375.5,-750 375.5,-768 453.5,-768 453.5,-750 375.5,-750"/>
<text lengthAdjust="spacingAndGlyphs" text-anchor="start" x="430.5" y="-756.2" textLength="19.5">0 &gt;</text>
<polygon fill="none" stroke="black" stroke-width="2" points="279,-749 279,-989 454,-989 454,-749 279,-749"/>
</g>
<g>
<path fill="none" stroke="black" d="M265.04,-934.97C232.98,-944.47 229.95,-985 189,-985"/>
<polygon fill="black" stroke="black" points="271.57,-934.08 280.98,-937.16 275.54,-933.54 279.5,-933 279.5,-933 279.5,-933 275.54,-933.54 279.8,-928.59 271.57,-934.08 271.57,-934.08"/>
<ellipse fill="none" stroke="black" cx="268.4" cy="-934.52" rx="3.2" ry="3.2"/>
</g>
<g>
<polygon fill="#ffffff" stroke="none" points="282,-669 282,-727 451,-727 451,-669 282,-669"/>
<polygon fill="#f5f5f5" stroke="none" points="282.5,-705 282.5,-727 451.5,-727 451.5,-705 282.5,-705"/>
<polygon fill="none" stroke="black" points="282.5,-705 282.5,-727 451.5,-727 451.5,-705 282.5,-705"/>
<text lengthAdjust="spacingAndGlyphs" text-anchor="start" x="287.5" y="-714.2" font-weight="bold" textLength="117.75">stage_assignments</text>
<text lengthAdjust="spacingAndGlyphs" text-anchor="start" x="409.5" y="-713.2" textLength="36.75">[table]</text>
<polygon fill="none" stroke="black" points="282.5,-687 282.5,-705 451.5,-705 451.5,-687 282.5,-687"/>
<text lengthAdjust="spacingAndGlyphs" text-anchor="start" x="285.5" y="-693.2" textLength="11.25">...</text>
<polygon fill="#ffffff" stroke="none" points="282.5,-669 282.5,-687 365.5,-687 365.5,-669 282.5,-669"/>
<polygon fill="none" stroke="black" points="282.5,-669 282.5,-687 365.5,-687 365.5,-669 282.5,-669"/>
<text lengthAdjust="spacingAndGlyphs" text-anchor="start" x="285.5" y="-675.2" textLength="19.5">&lt; 3</text>
<polygon fill="#ffffff" stroke="none" points="365.5,-669 365.5,-687 408.5,-687 408.5,-669 365.5,-669"/>
<polygon fill="none" stroke="black" points="365.5,-669 365.5,-687 408.5,-687 408.5,-669 365.5,-669"/>

<polygon fill="#ffffff" stroke="none" points="408.5,-669 408.5,-687 451.5,-687 451.5,-669 408.5,-669"/>
<polygon fill="none" stroke="black" points="408.5,-669 408.5,-687 451.5,-687 451.5,-669 408.5,-669"/>

</g>
<g>
<path fill="none" stroke="black" d="M267.11,-697.6C248.59,-702.27 241.3,-716.93 229,-738 200.97,-786.02 244.6,-985 189,-985"/>
<polygon fill="black" stroke="black" points="273.55,-696.88 282.87,-700.2 277.52,-696.44 281.5,-696 281.5,-696 281.5,-696 277.52,-696.44 281.91,-691.6 273.55,-696.88 273.55,-696.88"/>
<ellipse fill="none" stroke="black" cx="270.37" cy="-697.24" rx="3.2" ry="3.2"/>
</g>
<g>
<polygon fill="#ffffff" stroke="none" points="254,-590 254,-648 479,-648 479,-590 254,-590"/>
<polygon fill="#f5f5f5" stroke="none" points="254.5,-626 254.5,-648 479.5,-648 479.5,-626 254.5,-626"/>
<polygon fill="none" stroke="black" points="254.5,-626 254.5,-648 479.5,-648 479.5,-626 254.5,-626"/>
<text lengthAdjust="spacingAndGlyphs" text-anchor="start" x="259.5" y="-635.2" font-weight="bold" textLength="173.25">subeditor_submission_group</text>
<text lengthAdjust="spacingAndGlyphs" text-anchor="start" x="437.5" y="-634.2" textLength="36.75">[table]</text>
<polygon fill="none" stroke="black" points="254.5,-608 254.5,-626 479.5,-626 479.5,-608 254.5,-608"/>
<text lengthAdjust="spacingAndGlyphs" text-anchor="start" x="257.5" y="-614.2" textLength="11.25">...</text>
<polygon fill="#ffffff" stroke="none" points="254.5,-590 254.5,-608 365.5,-608 365.5,-590 254.5,-590"/>
<polygon fill="none" stroke="black" points="254.5,-590 254.5,-608 365.5,-608 365.5,-590 254.5,-590"/>
<text lengthAdjust="spacingAndGlyphs" text-anchor="start" x="257.5" y="-596.2" textLength="19.5">&lt; 3</text>
<polygon fill="#ffffff" stroke="none" points="365.5,-590 365.5,-608 422.5,-608 422.5,-590 365.5,-590"/>
<polygon fill="none" stroke="black" points="365.5,-590 365.5,-608 422.5,-608 422.5,-590 365.5,-590"/>

<polygon fill="#ffffff" stroke="none" points="422.5,-590 422.5,-608 479.5,-608 479.5,-590 422.5,-590"/>
<polygon fill="none" stroke="black" points="422.5,-590 422.5,-608 479.5,-608 479.5,-590 422.5,-590"/>

</g>
<g>
<path fill="none" stroke="black" d="M239.65,-621.39C182.8,-662.91 266.67,-985 189,-985"/>
<polygon fill="black" stroke="black" points="245.87,-619.42 255.67,-620.84 249.69,-618.21 253.5,-617 253.5,-617 253.5,-617 249.69,-618.21 253.05,-612.61 245.87,-619.42 245.87,-619.42"/>
<ellipse fill="none" stroke="black" cx="242.82" cy="-620.38" rx="3.2" ry="3.2"/>
</g>
<g>
<polygon fill="#ffffff" stroke="none" points="271.5,-511 271.5,-569 461.5,-569 461.5,-511 271.5,-511"/>
<polygon fill="#f5f5f5" stroke="none" points="271.5,-547 271.5,-569 461.5,-569 461.5,-547 271.5,-547"/>
<polygon fill="none" stroke="black" points="271.5,-547 271.5,-569 461.5,-569 461.5,-547 271.5,-547"/>
<text lengthAdjust="spacingAndGlyphs" text-anchor="start" x="276.5" y="-556.2" font-weight="bold" textLength="138">submission_comments</text>
<text lengthAdjust="spacingAndGlyphs" text-anchor="start" x="419.5" y="-555.2" textLength="36.75">[table]</text>
<polygon fill="none" stroke="black" points="271.5,-529 271.5,-547 461.5,-547 461.5,-529 271.5,-529"/>
<text lengthAdjust="spacingAndGlyphs" text-anchor="start" x="274.5" y="-535.2" textLength="11.25">...</text>
<polygon fill="#ffffff" stroke="none" points="271.5,-511 271.5,-529 365.5,-529 365.5,-511 271.5,-511"/>
<polygon fill="none" stroke="black" points="271.5,-511 271.5,-529 365.5,-529 365.5,-511 271.5,-511"/>
<text lengthAdjust="spacingAndGlyphs" text-anchor="start" x="274.5" y="-517.2" textLength="19.5">&lt; 2</text>
<polygon fill="#ffffff" stroke="none" points="365.5,-511 365.5,-529 413.5,-529 413.5,-511 365.5,-511"/>
<polygon fill="none" stroke="black" points="365.5,-511 365.5,-529 413.5,-529 413.5,-511 365.5,-511"/>

<polygon fill="#ffffff" stroke="none" points="413.5,-511 413.5,-529 461.5,-529 461.5,-511 413.5,-511"/>
<polygon fill="none" stroke="black" points="413.5,-511 413.5,-529 461.5,-529 461.5,-511 413.5,-511"/>

</g>
<g>
<path fill="none" stroke="black" d="M256.15,-540.49C242.12,-546.25 237.71,-561.44 229,-580 209.78,-620.93 234.22,-985 189,-985"/>
<polygon fill="black" stroke="black" points="262.62,-539.37 272.12,-542.11 266.56,-538.68 270.5,-538 270.5,-538 270.5,-538 266.56,-538.68 270.65,-533.59 262.62,-539.37 262.62,-539.37"/>
<ellipse fill="none" stroke="black" cx="259.46" cy="-539.91" rx="3.2" ry="3.2"/>
</g>
<g>
<polygon fill="#ffffff" stroke="none" points="290.5,-432 290.5,-490 442.5,-490 442.5,-432 290.5,-432"/>
<polygon fill="#f5f5f5" stroke="none" points="290.5,-468 290.5,-490 442.5,-490 442.5,-468 290.5,-468"/>
<polygon fill="none" stroke="black" points="290.5,-468 290.5,-490 442.5,-490 442.5,-468 290.5,-468"/>
<text lengthAdjust="spacingAndGlyphs" text-anchor="start" x="295.5" y="-477.2" font-weight="bold" textLength="100.5">submission_files</text>
<text lengthAdjust="spacingAndGlyphs" text-anchor="start" x="400.5" y="-476.2" textLength="36.75">[table]</text>
<polygon fill="none" stroke="black" points="290.5,-450 290.5,-468 442.5,-468 442.5,-450 290.5,-450"/>
<text lengthAdjust="spacingAndGlyphs" text-anchor="start" x="293.5" y="-456.2" textLength="11.25">...</text>
<polygon fill="#ffffff" stroke="none" points="290.5,-432 290.5,-450 355.5,-450 355.5,-432 290.5,-432"/>
<polygon fill="none" stroke="black" points="290.5,-432 290.5,-450 355.5,-450 355.5,-432 290.5,-432"/>
<text lengthAdjust="spacingAndGlyphs" text-anchor="start" x="293.5" y="-438.2" textLength="19.5">&lt; 5</text>
<polygon fill="#ffffff" stroke="none" points="355.5,-432 355.5,-450 389.5,-450 389.5,-432 355.5,-432"/>
<polygon fill="none" stroke="black" points="355.5,-432 355.5,-450 389.5,-450 389.5,-432 355.5,-432"/>

<polygon fill="#ffffff" stroke="none" points="389.5,-432 389.5,-450 442.5,-450 442.5,-432 389.5,-432"/>
<polygon fill="none" stroke="black" points="389.5,-432 389.5,-450 442.5,-450 442.5,-432 389.5,-432"/>
<text lengthAdjust="spacingAndGlyphs" text-anchor="start" x="412.5" y="-438.2" textLength="26.25">10 &gt;</text>
</g>
<g>
<path fill="none" stroke="black" d="M274.99,-460.11C252.89,-463.87 242.67,-477.3 229,-501 202.04,-547.74 242.96,-985 189,-985"/>
<polygon fill="black" stroke="black" points="281.52,-459.61 290.72,-463.24 285.51,-459.3 289.5,-459 289.5,-459 289.5,-459 285.51,-459.3 290.07,-454.62 281.52,-459.61 281.52,-459.61"/>
<ellipse fill="none" stroke="black" cx="278.33" cy="-459.85" rx="3.2" ry="3.2"/>
</g>
<g>
<polygon fill="#ffffff" stroke="none" points="299.5,-353 299.5,-411 433.5,-411 433.5,-353 299.5,-353"/>
<polygon fill="#f5f5f5" stroke="none" points="299.5,-389 299.5,-411 433.5,-411 433.5,-389 299.5,-389"/>
<polygon fill="none" stroke="black" points="299.5,-389 299.5,-411 433.5,-411 433.5,-389 299.5,-389"/>
<text lengthAdjust="spacingAndGlyphs" text-anchor="start" x="304.5" y="-398.2" font-weight="bold" textLength="82.5">subscriptions</text>
<text lengthAdjust="spacingAndGlyphs" text-anchor="start" x="391.5" y="-397.2" textLength="36.75">[table]</text>
<polygon fill="none" stroke="black" points="299.5,-371 299.5,-389 433.5,-389 433.5,-371 299.5,-371"/>
<text lengthAdjust="spacingAndGlyphs" text-anchor="start" x="302.5" y="-377.2" textLength="11.25">...</text>
<polygon fill="#ffffff" stroke="none" points="299.5,-353 299.5,-371 359.5,-371 359.5,-353 299.5,-353"/>
<polygon fill="none" stroke="black" points="299.5,-353 299.5,-371 359.5,-371 359.5,-353 299.5,-353"/>
<text lengthAdjust="spacingAndGlyphs" text-anchor="start" x="302.5" y="-359.2" textLength="19.5">&lt; 3</text>
<polygon fill="#ffffff" stroke="none" points="359.5,-353 359.5,-371 390.5,-371 390.5,-353 359.5,-353"/>
<polygon fill="none" stroke="black" points="359.5,-353 359.5,-371 390.5,-371 390.5,-353 359.5,-353"/>

<polygon fill="#ffffff" stroke="none" points="390.5,-353 390.5,-371 433.5,-371 433.5,-353 390.5,-353"/>
<polygon fill="none" stroke="black" points="390.5,-353 390.5,-371 433.5,-371 433.5,-353 390.5,-353"/>
<text lengthAdjust="spacingAndGlyphs" text-anchor="start" x="410.5" y="-359.2" textLength="19.5">1 &gt;</text>
</g>
<g>
<path fill="none" stroke="black" d="M283.77,-380.77C257.99,-383.76 245.04,-395.78 229,-422 196.27,-475.5 251.71,-985 189,-985"/>
<polygon fill="black" stroke="black" points="290.51,-380.42 299.63,-384.27 294.51,-380.21 298.5,-380 298.5,-380 298.5,-380 294.51,-380.21 299.17,-375.63 290.51,-380.42 290.51,-380.42"/>
<ellipse fill="none" stroke="black" cx="287.32" cy="-380.58" rx="3.2" ry="3.2"/>
</g>
<g>
<polygon fill="#ffffff" stroke="none" points="292.5,-274 292.5,-332 440.5,-332 440.5,-274 292.5,-274"/>
<polygon fill="#f5f5f5" stroke="none" points="292.5,-310 292.5,-332 440.5,-332 440.5,-310 292.5,-310"/>
<polygon fill="none" stroke="black" points="292.5,-310 292.5,-332 440.5,-332 440.5,-310 292.5,-310"/>
<text lengthAdjust="spacingAndGlyphs" text-anchor="start" x="297.5" y="-319.2" font-weight="bold" textLength="96">temporary_files</text>
<text lengthAdjust="spacingAndGlyphs" text-anchor="start" x="398.5" y="-318.2" textLength="36.75">[table]</text>
<polygon fill="none" stroke="black" points="292.5,-292 292.5,-310 440.5,-310 440.5,-292 292.5,-292"/>
<text lengthAdjust="spacingAndGlyphs" text-anchor="start" x="295.5" y="-298.2" textLength="11.25">...</text>
<polygon fill="#ffffff" stroke="none" points="292.5,-274 292.5,-292 365.5,-292 365.5,-274 292.5,-274"/>
<polygon fill="none" stroke="black" points="292.5,-274 292.5,-292 365.5,-292 365.5,-274 292.5,-274"/>
<text lengthAdjust="spacingAndGlyphs" text-anchor="start" x="295.5" y="-280.2" textLength="19.5">&lt; 1</text>
<polygon fill="#ffffff" stroke="none" points="365.5,-274 365.5,-292 402.5,-292 402.5,-274 365.5,-274"/>
<polygon fill="none" stroke="black" points="365.5,-274 365.5,-292 402.5,-292 402.5,-274 365.5,-274"/>

<polygon fill="#ffffff" stroke="none" points="402.5,-274 402.5,-292 440.5,-292 440.5,-274 402.5,-274"/>
<polygon fill="none" stroke="black" points="402.5,-274 402.5,-292 440.5,-292 440.5,-274 402.5,-274"/>

</g>
<g>
<path fill="none" stroke="black" d="M276.94,-302.01C253.96,-305.57 242.98,-318.62 229,-343 193.45,-405 260.47,-985 189,-985"/>
<polygon fill="black" stroke="black" points="283.52,-301.55 292.7,-305.25 287.51,-301.28 291.5,-301 291.5,-301 291.5,-301 287.51,-301.28 292.1,-296.63 283.52,-301.55 283.52,-301.55"/>
<ellipse fill="none" stroke="black" cx="280.33" cy="-301.78" rx="3.2" ry="3.2"/>
</g>
<g>
<polygon fill="#ffffff" stroke="none" points="297,-195 297,-253 436,-253 436,-195 297,-195"/>
<polygon fill="#f5f5f5" stroke="none" points="297.5,-231 297.5,-253 436.5,-253 436.5,-231 297.5,-231"/>
<polygon fill="none" stroke="black" points="297.5,-231 297.5,-253 436.5,-253 436.5,-231 297.5,-231"/>
<text lengthAdjust="spacingAndGlyphs" text-anchor="start" x="302.5" y="-240.2" font-weight="bold" textLength="87.75">user_interests</text>
<text lengthAdjust="spacingAndGlyphs" text-anchor="start" x="394.5" y="-239.2" textLength="36.75">[table]</text>
<polygon fill="none" stroke="black" points="297.5,-213 297.5,-231 436.5,-231 436.5,-213 297.5,-213"/>
<text lengthAdjust="spacingAndGlyphs" text-anchor="start" x="300.5" y="-219.2" textLength="11.25">...</text>
<polygon fill="#ffffff" stroke="none" points="297.5,-195 297.5,-213 365.5,-213 365.5,-195 297.5,-195"/>
<polygon fill="none" stroke="black" points="297.5,-195 297.5,-213 365.5,-213 365.5,-195 297.5,-195"/>
<text lengthAdjust="spacingAndGlyphs" text-anchor="start" x="300.5" y="-201.2" textLength="19.5">&lt; 2</text>
<polygon fill="#ffffff" stroke="none" points="365.5,-195 365.5,-213 400.5,-213 400.5,-195 365.5,-195"/>
<polygon fill="none" stroke="black" points="365.5,-195 365.5,-213 400.5,-213 400.5,-195 365.5,-195"/>

<polygon fill="#ffffff" stroke="none" points="400.5,-195 400.5,-213 436.5,-213 436.5,-195 400.5,-195"/>
<polygon fill="none" stroke="black" points="400.5,-195 400.5,-213 436.5,-213 436.5,-195 400.5,-195"/>

</g>
<g>
<path fill="none" stroke="black" d="M282.08,-222.79C256.88,-225.86 244.34,-238.11 229,-264 188.11,-333.03 269.23,-985 189,-985"/>
<polygon fill="black" stroke="black" points="288.51,-222.44 297.64,-226.26 292.51,-222.22 296.5,-222 296.5,-222 296.5,-222 292.51,-222.22 297.16,-217.64 288.51,-222.44 288.51,-222.44"/>
<ellipse fill="none" stroke="black" cx="285.32" cy="-222.61" rx="3.2" ry="3.2"/>
</g>
<g>
<polygon fill="#ffffff" stroke="none" points="299.5,-116 299.5,-174 433.5,-174 433.5,-116 299.5,-116"/>
<polygon fill="#f5f5f5" stroke="none" points="299.5,-152 299.5,-174 433.5,-174 433.5,-152 299.5,-152"/>
<polygon fill="none" stroke="black" points="299.5,-152 299.5,-174 433.5,-174 433.5,-152 299.5,-152"/>
<text lengthAdjust="spacingAndGlyphs" text-anchor="start" x="304.5" y="-161.2" font-weight="bold" textLength="82.5">user_settings</text>
<text lengthAdjust="spacingAndGlyphs" text-anchor="start" x="391.5" y="-160.2" textLength="36.75">[table]</text>
<polygon fill="none" stroke="black" points="299.5,-134 299.5,-152 433.5,-152 433.5,-134 299.5,-134"/>
<text lengthAdjust="spacingAndGlyphs" text-anchor="start" x="302.5" y="-140.2" textLength="11.25">...</text>
<polygon fill="#ffffff" stroke="none" points="299.5,-116 299.5,-134 365.5,-134 365.5,-116 299.5,-116"/>
<polygon fill="none" stroke="black" points="299.5,-116 299.5,-134 365.5,-134 365.5,-116 299.5,-116"/>
<text lengthAdjust="spacingAndGlyphs" text-anchor="start" x="302.5" y="-122.2" textLength="19.5">&lt; 1</text>
<polygon fill="#ffffff" stroke="none" points="365.5,-116 365.5,-134 399.5,-134 399.5,-116 365.5,-116"/>
<polygon fill="none" stroke="black" points="365.5,-116 365.5,-134 399.5,-134 399.5,-116 365.5,-116"/>

<polygon fill="#ffffff" stroke="none" points="399.5,-116 399.5,-134 433.5,-134 433.5,-116 399.5,-116"/>
<polygon fill="none" stroke="black" points="399.5,-116 399.5,-134 433.5,-134 433.5,-116 399.5,-116"/>

</g>
<g>
<path fill="none" stroke="black" d="M284.1,-143.72C258.03,-146.6 244.84,-158.5 229,-185 183.35,-261.4 278,-985 189,-985"/>
<polygon fill="black" stroke="black" points="290.51,-143.4 299.61,-147.28 294.5,-143.2 298.5,-143 298.5,-143 298.5,-143 294.5,-143.2 299.18,-138.64 290.51,-143.4 290.51,-143.4"/>
<ellipse fill="none" stroke="black" cx="287.31" cy="-143.56" rx="3.2" ry="3.2"/>
</g>
<g>
<polygon fill="#ffffff" stroke="none" points="287.5,-37 287.5,-95 445.5,-95 445.5,-37 287.5,-37"/>
<polygon fill="#f5f5f5" stroke="none" points="287.5,-73 287.5,-95 445.5,-95 445.5,-73 287.5,-73"/>
<polygon fill="none" stroke="black" points="287.5,-73 287.5,-95 445.5,-95 445.5,-73 287.5,-73"/>
<text lengthAdjust="spacingAndGlyphs" text-anchor="start" x="292.5" y="-82.2" font-weight="bold" textLength="106.5">user_user_groups</text>
<text lengthAdjust="spacingAndGlyphs" text-anchor="start" x="403.5" y="-81.2" textLength="36.75">[table]</text>
<polygon fill="none" stroke="black" points="287.5,-55 287.5,-73 445.5,-73 445.5,-55 287.5,-55"/>
<text lengthAdjust="spacingAndGlyphs" text-anchor="start" x="290.5" y="-61.2" textLength="11.25">...</text>
<polygon fill="#ffffff" stroke="none" points="287.5,-37 287.5,-55 365.5,-55 365.5,-37 287.5,-37"/>
<polygon fill="none" stroke="black" points="287.5,-37 287.5,-55 365.5,-55 365.5,-37 287.5,-37"/>
<text lengthAdjust="spacingAndGlyphs" text-anchor="start" x="290.5" y="-43.2" textLength="19.5">&lt; 2</text>
<polygon fill="#ffffff" stroke="none" points="365.5,-37 365.5,-55 405.5,-55 405.5,-37 365.5,-37"/>
<polygon fill="none" stroke="black" points="365.5,-37 365.5,-55 405.5,-55 405.5,-37 365.5,-37"/>

<polygon fill="#ffffff" stroke="none" points="405.5,-37 405.5,-55 445.5,-55 445.5,-37 405.5,-37"/>
<polygon fill="none" stroke="black" points="405.5,-37 405.5,-55 445.5,-55 445.5,-37 405.5,-37"/>

</g>
<g>
<path fill="none" stroke="black" d="M271.9,-65.25C250.99,-69.26 241.4,-82.91 229,-106 205.88,-149.07 237.88,-985 189,-985"/>
<polygon fill="black" stroke="black" points="278.53,-64.68 287.77,-68.23 282.51,-64.34 286.5,-64 286.5,-64 286.5,-64 282.51,-64.34 287.02,-59.62 278.53,-64.68 278.53,-64.68"/>
<ellipse fill="none" stroke="black" cx="275.34" cy="-64.95" rx="3.2" ry="3.2"/>
</g>
</g>

<g transform="scale(0.75)">
 <g fill="#d4dc00">
  <circle cx="29.95" cy="1065.8" r="3.05"/>
  <path d="M28.6,1067.5 L31.3,1067.5 L31.3,1071 L31.7,1071.4 L31.2,1072 L31.7,1072.8 L31.2,1073.5 L31.7,1074.3 L31.1,1075 L31.1,1078.2 Q30,1079.3 28.9,1078.2 Z"/>
 </g>
 <rect x="29.1" y="1064.1" width="1.7" height="1.7" fill="#fff"/>
 <g fill="#bcbcbc">
  <circle cx="393.2" cy="1135.3" r="3.0"/>
  <path d="M392.0,1137 L394.4,1137 L394.4,1140.5 L394.8,1141 L394.3,1141.7 L394.8,1142.5 L394.3,1143.2 L394.8,1144 L394.2,1144.6 L394.2,1147.3 Q393.2,1148.3 392.1,1147.3 Z"/>
 </g>
 <circle cx="393.4" cy="1134.5" r="0.85" fill="#fff"/>
</g>
</svg>

</body></html>
